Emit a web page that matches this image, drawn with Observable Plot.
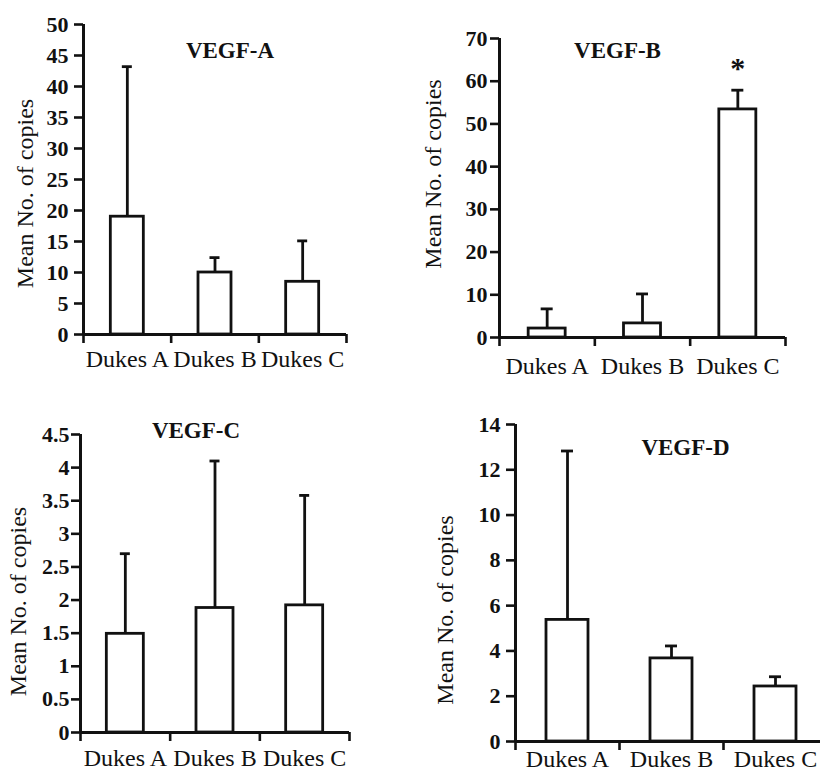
<!DOCTYPE html>
<html>
<head>
<meta charset="utf-8">
<script src="https://cdn.jsdelivr.net/npm/d3@7"></script>
<script src="https://cdn.jsdelivr.net/npm/@observablehq/plot@0.6"></script>
<style>
  body { margin: 0; background: white; }
  #root { position: relative; width: 820px; height: 774px; overflow: hidden; background: white; }
  #root > svg { position: absolute; }
  #root g[aria-label="y-axis tick label"] text { font-weight: bold; }
</style>
</head>
<body>
<div id="root"></div>
<script>
const categories = ["Dukes A", "Dukes B", "Dukes C"];
const yLabel = "Mean No. of copies";

const titleA = "VEGF-A";
const meansA = [19, 10, 8.5];
const upperA = [43.2, 12.4, 15.1];
const ticksA = [0, 5, 10, 15, 20, 25, 30, 35, 40, 45, 50];

const titleB = "VEGF-B";
const meansB = [2.1, 3.3, 53.4];
const upperB = [6.7, 10.2, 57.9];
const starsB = ["", "", "*"];
const ticksB = [0, 10, 20, 30, 40, 50, 60, 70];

const titleC = "VEGF-C";
const meansC = [1.49, 1.88, 1.92];
const upperC = [2.70, 4.10, 3.58];
const ticksC = [0, 0.5, 1, 1.5, 2, 2.5, 3, 3.5, 4, 4.5];

const titleD = "VEGF-D";
const meansD = [5.37, 3.67, 2.43];
const upperD = [12.83, 4.22, 2.86];
const ticksD = [0, 2, 4, 6, 8, 10, 12, 14];

const FONT = "'Liberation Serif', 'Times New Roman', Times, serif";

function panel(p) {
  const stars = p.stars || ["", "", ""];
  const data = categories.map((c, i) => ({c, i, mean: p.means[i], upper: p.uppers[i], star: stars[i]}));
  const bandPx = (p.width - p.mL - p.mR) / 3;
  const barInset = (bandPx - p.barW) / 2;
  const capInset = (bandPx - p.capW) / 2;
  const svg = Plot.plot({
    width: p.width, height: p.height,
    marginLeft: p.mL, marginRight: p.mR, marginTop: p.mT, marginBottom: p.mB,
    style: {fontFamily: FONT, fontSize: "22px", color: "#111", background: "transparent", overflow: "visible"},
    x: {type: "linear", domain: [0, 3], axis: null},
    y: {domain: [0, p.ticks[p.ticks.length - 1]], axis: null},
    marks: [
      Plot.rectY(data, {x1: "i", x2: d => d.i + 1, y1: 0, y2: "mean", fill: "white", stroke: "#111", strokeWidth: 2.8, insetLeft: barInset, insetRight: barInset}),
      Plot.ruleX(data, {x: d => d.i + 0.5, y1: "mean", y2: "upper", stroke: "#111", strokeWidth: 2.8}),
      Plot.ruleY(data, {y: "upper", x1: "i", x2: d => d.i + 1, insetLeft: capInset, insetRight: capInset, stroke: "#111", strokeWidth: 2.8}),
      Plot.text(data, {x: d => d.i + 0.5, y: "upper", text: "star", dy: -22, fontSize: 30, fontWeight: "bold", fill: "#111"}),
      Plot.ruleY([0], {stroke: "#111", strokeWidth: 3}),
      Plot.ruleX([0], {stroke: "#111", strokeWidth: 3}),
      Plot.axisY({ticks: p.ticks, tickSize: 9, tickPadding: p.yPad, strokeWidth: 2.6, stroke: "#111", tickFormat: d => String(d), fontWeight: "bold", fontSize: 22, fill: "#111", label: null}),
      Plot.axisX({ticks: [0, 1, 2, 3], tickSize: 9, strokeWidth: 2.6, stroke: "#111", tickFormat: () => "", label: null}),
      Plot.axisX({ticks: [0.5, 1.5, 2.5], tickSize: 0, tickPadding: p.xPad, tickFormat: d => categories[Math.floor(d)], fontSize: 24, fill: "#111", label: null}),
      Plot.text([p.title], {frameAnchor: "top", dx: p.tDx, dy: p.tDy, fontSize: 23, fontWeight: "bold", textAnchor: "middle", lineAnchor: "middle", fill: "#111"}),
      Plot.text([yLabel], {frameAnchor: "left", rotate: -90, dx: p.lDx, dy: p.lDy, fontSize: 24, textAnchor: "middle", lineAnchor: "middle", fill: "#111"})
    ]
  });
  svg.style.left = p.left + "px";
  svg.style.top = p.top + "px";
  return svg;
}

const root = document.getElementById("root");
root.appendChild(panel({title: titleA, means: meansA, uppers: upperA, ticks: ticksA,
  left: 0, top: 0, width: 410, height: 380, mL: 83, mR: 64, mT: 24, mB: 46,
  barW: 33, capW: 10, yPad: 6, xPad: 15, tDx: 15, tDy: 26, lDx: -58, lDy: 14}));
root.appendChild(panel({title: titleB, means: meansB, uppers: upperB, ticks: ticksB, stars: starsB,
  left: 410, top: 0, width: 410, height: 380, mL: 89, mR: 35, mT: 38, mB: 43,
  barW: 37, capW: 12, yPad: 3, xPad: 19, tDx: -25, tDy: 12, lDx: -66, lDy: -14}));
root.appendChild(panel({title: titleC, means: meansC, uppers: upperC, ticks: ticksC,
  left: 0, top: 390, width: 410, height: 384, mL: 80, mR: 61, mT: 44, mB: 42,
  barW: 37, capW: 10, yPad: 2, xPad: 16, tDx: -19, tDy: -4, lDx: -62, lDy: 18}));
root.appendChild(panel({title: titleD, means: meansD, uppers: upperD, ticks: ticksD,
  left: 410, top: 390, width: 420, height: 384, mL: 105, mR: 3, mT: 34, mB: 33,
  barW: 42, capW: 12, yPad: 6, xPad: 8, tDx: 14, tDy: 23, lDx: -70, lDy: 27}));
</script>
</body>
</html>
